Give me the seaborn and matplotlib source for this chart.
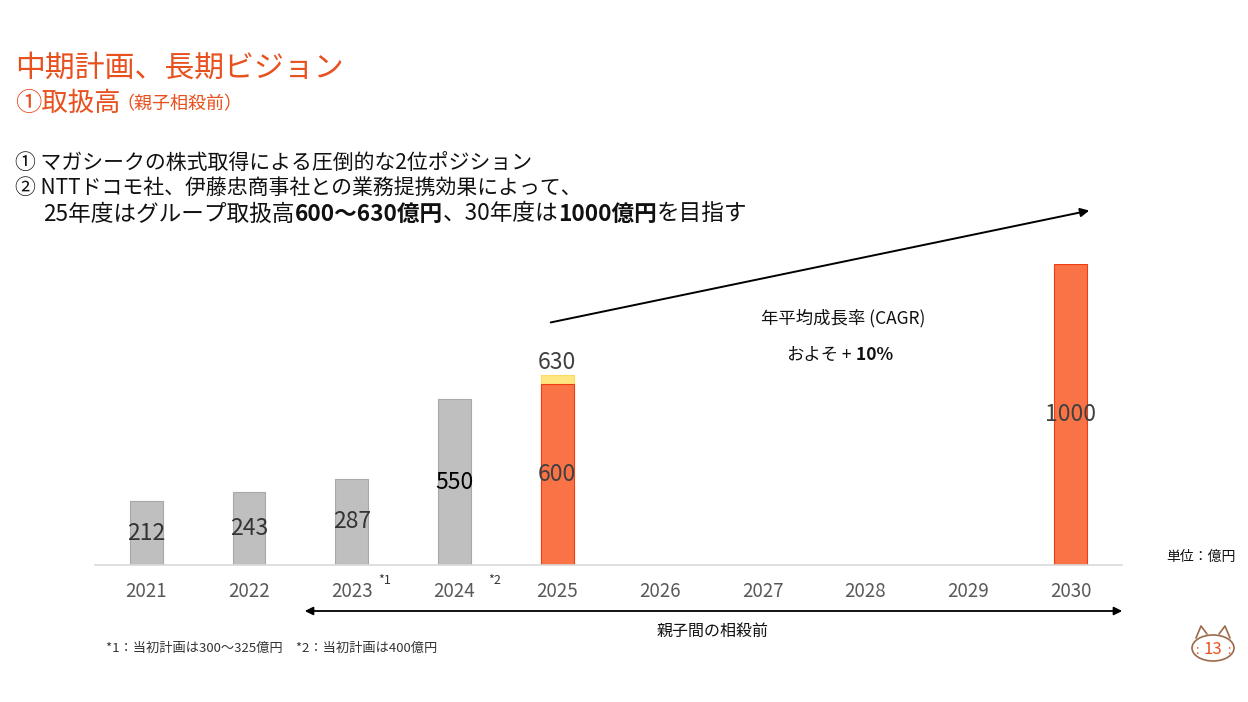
import numpy as np
import pandas as pd
import matplotlib
matplotlib.use("Agg")
import matplotlib.pyplot as plt
import seaborn as sns
from matplotlib.patches import Ellipse

# データ
years = ['2021', '2022', '2023', '2024', '2025', '2026', '2027', '2028', '2029', '2030']
handling = [212, 243, 287, 550, 600, np.nan, np.nan, np.nan, np.nan, 1000]   # 取扱高(億円)
upper_2025 = [np.nan, np.nan, np.nan, np.nan, 630, np.nan, np.nan, np.nan, np.nan, np.nan]
bar_colors = ['#BFBFBF', '#BFBFBF', '#BFBFBF', '#BFBFBF', '#F97347',
              '#F97347', '#F97347', '#F97347', '#F97347', '#F97347']
label_colors = ['#333333', '#333333', '#333333', '#000000', '#404040',
                '#404040', '#404040', '#404040', '#404040', '#404040']
notes = {'2023': '*1', '2024': '*2'}

W, H = 1248, 702
ORANGE = '#E8501E'

sns.set_theme(style='white')
plt.rcParams['font.family'] = ['Noto Sans CJK JP', 'DejaVu Sans']

fig = plt.figure(figsize=(W / 100, H / 100), dpi=100)
fig.patch.set_facecolor('white')


def fx(px):
    return px / W


def fy(py):
    return 1 - py / H


# 棒グラフ
ax = fig.add_axes([fx(95), fy(565), fx(1122) - fx(95), (565 - 264) / H])
df = pd.DataFrame({'year': years, 'value': handling, 'upper': upper_2025})
pal = dict(zip(years, bar_colors))

sns.barplot(data=df, x='year', y='upper', order=years, color='#FFE680', saturation=1,
            width=0.32, ax=ax, edgecolor='#FFD966', linewidth=0.8)
n_upper = len(ax.patches)
sns.barplot(data=df, x='year', y='value', order=years, hue='year', palette=pal,
            saturation=1, legend=False, width=0.32, ax=ax, linewidth=0.8)
for p in ax.patches[n_upper:]:
    fc = matplotlib.colors.to_hex(p.get_facecolor())
    p.set_edgecolor('#A8A8A8' if fc.lower() == '#bfbfbf' else '#F03C0F')

ax.set_ylim(0, 1000)
ax.set_xlim(-0.5, len(years) - 0.5)
ax.set_xlabel('')
ax.set_ylabel('')
ax.set_yticks([])
for s in ['top', 'left', 'right']:
    ax.spines[s].set_visible(False)
ax.spines['bottom'].set_color('#D9D9D9')
ax.spines['bottom'].set_linewidth(1.2)
ax.tick_params(axis='x', length=0, pad=11.5, labelsize=13.5, labelcolor='#595959')

# 値ラベル
for i, (v, c) in enumerate(zip(handling, label_colors)):
    if not np.isnan(v):
        ax.text(i, v / 2, f'{int(v)}', ha='center', va='center', fontsize=16.5, color=c)
for i, v in enumerate(upper_2025):
    if not np.isnan(v):
        ax.annotate(f'{int(v)}', (i, v), xytext=(0, 4.5), textcoords='offset points',
                    ha='center', va='baseline', fontsize=16.5, color='#404040',
                    annotation_clip=False)
for (yr, nt), dx in zip(notes.items(), [24, 29]):
    i = years.index(yr)
    ax.annotate(nt, (i, 0), xytext=(dx, -11), textcoords='offset points',
                ha='center', va='center', fontsize=9, color='#333333',
                annotation_clip=False)

# 見出し
fig.text(fx(15), fy(68), '中期計画、長期ビジョン', fontsize=21.5, color=ORANGE, va='center')
renderer = fig.canvas.get_renderer()


def draw_runs(x, y, runs, size, color):
    for s, w in runs:
        t = fig.text(fx(x), fy(y), s, fontsize=size, fontweight=w, color=color, va='center')
        x += t.get_window_extent(renderer).width
    return x


x_sub = draw_runs(15, 103, [('①取扱高', 'normal')], 19, ORANGE)
fig.text(fx(x_sub - 4), fy(104), '（親子相殺前）', fontsize=13, color=ORANGE, va='center')

draw_runs(15, 163, [('① マガシークの株式取得による圧倒的な2位ポジション', 'normal')], 15, '#111111')
draw_runs(15, 188, [('② NTTドコモ社、伊藤忠商事社との業務提携効果によって、', 'normal')], 15, '#111111')
draw_runs(43, 214, [('25年度はグループ取扱高', 'normal'), ('600〜630億円', 'bold'),
                    ('、30年度は', 'normal'), ('1000億円', 'bold'), ('を目指す', 'normal')],
          16.3, '#111111')

# CAGR 矢印
ax.annotate('', xy=(fx(1092), fy(210)), xytext=(fx(548), fy(323)),
            xycoords='figure fraction', textcoords='figure fraction',
            arrowprops=dict(arrowstyle='-|>', color='black', lw=1.4, mutation_scale=13),
            annotation_clip=False)
fig.text(fx(843), fy(318), '年平均成長率 (CAGR)', fontsize=12.5, color='#111111',
         ha='center', va='center')
draw_runs(786, 355, [('およそ', 'normal'), (' +', 'normal'), (' 10%', 'bold')], 12.5, '#111111')

# 親子間の相殺前 矢印
ax.annotate('', xy=(fx(1125), fy(611)), xytext=(fx(302), fy(611)),
            xycoords='figure fraction', textcoords='figure fraction',
            arrowprops=dict(arrowstyle='<|-|>', color='black', lw=1.3, mutation_scale=12),
            annotation_clip=False)
fig.text(fx(713), fy(631), '親子間の相殺前', fontsize=11.5, color='#111111', ha='center', va='center')

fig.text(fx(1166), fy(557), '単位：億円', fontsize=10, color='#111111', va='center')
fig.text(fx(106), fy(648), '*1：当初計画は300〜325億円　*2：当初計画は400億円',
         fontsize=9.5, color='#333333', va='center')

# ページ番号アイコン
axi = fig.add_axes([fx(1190), fy(662), 46 / W, 44 / H])
axi.set_xlim(0, 46)
axi.set_ylim(0, 44)
axi.axis('off')
brown = '#9A6A4A'
axi.plot([6, 11, 17], [24, 36, 28], color=brown, lw=1.2)
axi.plot([29, 35, 40], [28, 36, 24], color=brown, lw=1.2)
axi.add_patch(Ellipse((23, 14), 42, 26, facecolor='white', edgecolor=brown, lw=1.2))
axi.text(23, 13, '13', ha='center', va='center', fontsize=12, color=ORANGE)
axi.text(7, 12, ':', ha='center', va='center', fontsize=9, color=ORANGE)
axi.text(39, 12, ':', ha='center', va='center', fontsize=9, color=ORANGE)

fig.savefig('out.png', dpi=100, facecolor='white')
